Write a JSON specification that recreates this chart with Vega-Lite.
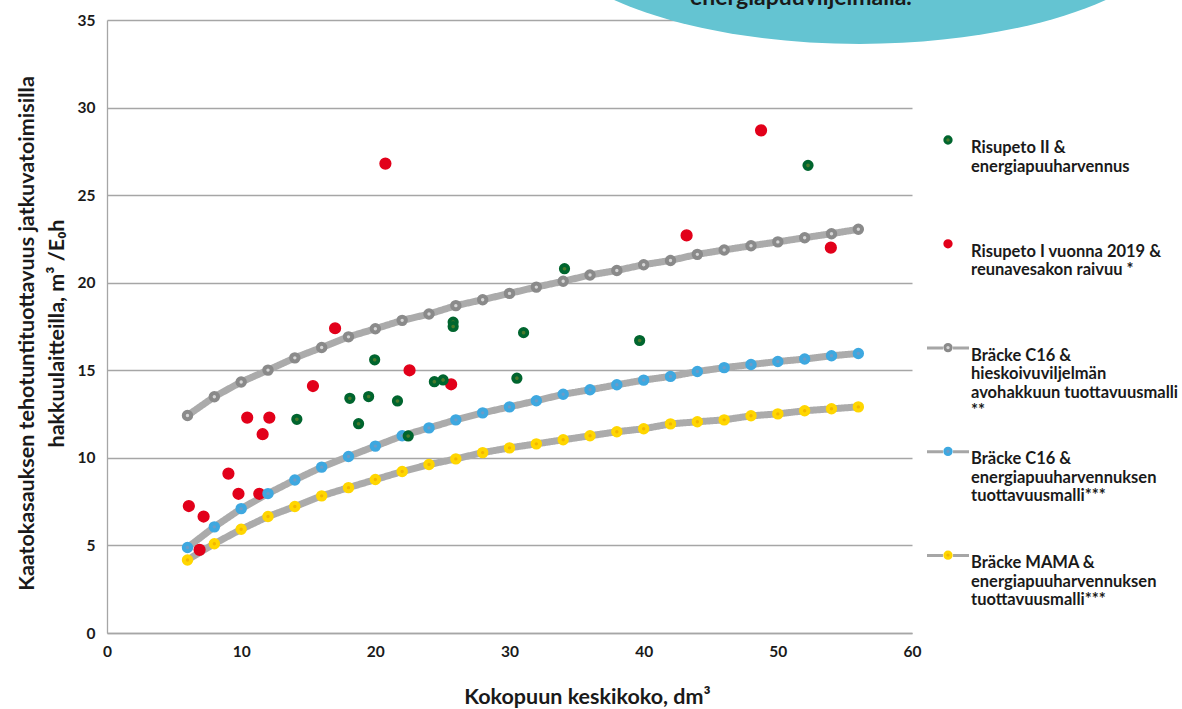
{
  "$schema": "https://vega.github.io/schema/vega-lite/v6.json",
  "width": 805,
  "height": 613,
  "autosize": {"type": "none"},
  "padding": {"left": 107, "top": 20, "right": 270, "bottom": 76},
  "background": "white",
  "config": {"view": {"stroke": null}, "font": "Lato"},
  "datasets": {
    "green": [
      {"serie": "Risupeto II &|energiapuuharvennus", "x": 14.15, "y": 12.2},
      {"serie": "Risupeto II &|energiapuuharvennus", "x": 18.1, "y": 13.4},
      {"serie": "Risupeto II &|energiapuuharvennus", "x": 18.75, "y": 11.95},
      {"serie": "Risupeto II &|energiapuuharvennus", "x": 19.5, "y": 13.5},
      {"serie": "Risupeto II &|energiapuuharvennus", "x": 19.95, "y": 15.6},
      {"serie": "Risupeto II &|energiapuuharvennus", "x": 21.65, "y": 13.25},
      {"serie": "Risupeto II &|energiapuuharvennus", "x": 22.45, "y": 11.25},
      {"serie": "Risupeto II &|energiapuuharvennus", "x": 24.4, "y": 14.35},
      {"serie": "Risupeto II &|energiapuuharvennus", "x": 25.05, "y": 14.45},
      {"serie": "Risupeto II &|energiapuuharvennus", "x": 25.8, "y": 17.75},
      {"serie": "Risupeto II &|energiapuuharvennus", "x": 25.8, "y": 17.5},
      {"serie": "Risupeto II &|energiapuuharvennus", "x": 30.55, "y": 14.55},
      {"serie": "Risupeto II &|energiapuuharvennus", "x": 31.05, "y": 17.15},
      {"serie": "Risupeto II &|energiapuuharvennus", "x": 34.1, "y": 20.8},
      {"serie": "Risupeto II &|energiapuuharvennus", "x": 39.7, "y": 16.7},
      {"serie": "Risupeto II &|energiapuuharvennus", "x": 52.25, "y": 26.7}
    ],
    "red": [
      {"serie": "Risupeto I vuonna 2019 &|reunavesakon raivuu *", "x": 6.1, "y": 7.25},
      {"serie": "Risupeto I vuonna 2019 &|reunavesakon raivuu *", "x": 6.9, "y": 4.75},
      {"serie": "Risupeto I vuonna 2019 &|reunavesakon raivuu *", "x": 7.2, "y": 6.65},
      {"serie": "Risupeto I vuonna 2019 &|reunavesakon raivuu *", "x": 9.05, "y": 9.1},
      {"serie": "Risupeto I vuonna 2019 &|reunavesakon raivuu *", "x": 9.8, "y": 7.95},
      {"serie": "Risupeto I vuonna 2019 &|reunavesakon raivuu *", "x": 10.45, "y": 12.3},
      {"serie": "Risupeto I vuonna 2019 &|reunavesakon raivuu *", "x": 11.35, "y": 7.95},
      {"serie": "Risupeto I vuonna 2019 &|reunavesakon raivuu *", "x": 11.6, "y": 11.35},
      {"serie": "Risupeto I vuonna 2019 &|reunavesakon raivuu *", "x": 12.1, "y": 12.3},
      {"serie": "Risupeto I vuonna 2019 &|reunavesakon raivuu *", "x": 15.35, "y": 14.1},
      {"serie": "Risupeto I vuonna 2019 &|reunavesakon raivuu *", "x": 17.0, "y": 17.4},
      {"serie": "Risupeto I vuonna 2019 &|reunavesakon raivuu *", "x": 20.75, "y": 26.8},
      {"serie": "Risupeto I vuonna 2019 &|reunavesakon raivuu *", "x": 22.55, "y": 15.0},
      {"serie": "Risupeto I vuonna 2019 &|reunavesakon raivuu *", "x": 25.65, "y": 14.2},
      {"serie": "Risupeto I vuonna 2019 &|reunavesakon raivuu *", "x": 43.2, "y": 22.7},
      {"serie": "Risupeto I vuonna 2019 &|reunavesakon raivuu *", "x": 48.75, "y": 28.7},
      {"serie": "Risupeto I vuonna 2019 &|reunavesakon raivuu *", "x": 53.95, "y": 22.0}
    ],
    "models": [
      {"serie": "Bräcke C16 &|hieskoivuviljelmän|avohakkuun tuottavuusmalli|**", "x": 6, "y": 12.42},
      {"serie": "Bräcke C16 &|hieskoivuviljelmän|avohakkuun tuottavuusmalli|**", "x": 8, "y": 13.49},
      {"serie": "Bräcke C16 &|hieskoivuviljelmän|avohakkuun tuottavuusmalli|**", "x": 10, "y": 14.33},
      {"serie": "Bräcke C16 &|hieskoivuviljelmän|avohakkuun tuottavuusmalli|**", "x": 12, "y": 15.01},
      {"serie": "Bräcke C16 &|hieskoivuviljelmän|avohakkuun tuottavuusmalli|**", "x": 14, "y": 15.71},
      {"serie": "Bräcke C16 &|hieskoivuviljelmän|avohakkuun tuottavuusmalli|**", "x": 16, "y": 16.3},
      {"serie": "Bräcke C16 &|hieskoivuviljelmän|avohakkuun tuottavuusmalli|**", "x": 18, "y": 16.91},
      {"serie": "Bräcke C16 &|hieskoivuviljelmän|avohakkuun tuottavuusmalli|**", "x": 20, "y": 17.37},
      {"serie": "Bräcke C16 &|hieskoivuviljelmän|avohakkuun tuottavuusmalli|**", "x": 22, "y": 17.85},
      {"serie": "Bräcke C16 &|hieskoivuviljelmän|avohakkuun tuottavuusmalli|**", "x": 24, "y": 18.21},
      {"serie": "Bräcke C16 &|hieskoivuviljelmän|avohakkuun tuottavuusmalli|**", "x": 26, "y": 18.69},
      {"serie": "Bräcke C16 &|hieskoivuviljelmän|avohakkuun tuottavuusmalli|**", "x": 28, "y": 19.03},
      {"serie": "Bräcke C16 &|hieskoivuviljelmän|avohakkuun tuottavuusmalli|**", "x": 30, "y": 19.39},
      {"serie": "Bräcke C16 &|hieskoivuviljelmän|avohakkuun tuottavuusmalli|**", "x": 32, "y": 19.75},
      {"serie": "Bräcke C16 &|hieskoivuviljelmän|avohakkuun tuottavuusmalli|**", "x": 34, "y": 20.08},
      {"serie": "Bräcke C16 &|hieskoivuviljelmän|avohakkuun tuottavuusmalli|**", "x": 36, "y": 20.44},
      {"serie": "Bräcke C16 &|hieskoivuviljelmän|avohakkuun tuottavuusmalli|**", "x": 38, "y": 20.7},
      {"serie": "Bräcke C16 &|hieskoivuviljelmän|avohakkuun tuottavuusmalli|**", "x": 40, "y": 21.03},
      {"serie": "Bräcke C16 &|hieskoivuviljelmän|avohakkuun tuottavuusmalli|**", "x": 42, "y": 21.27},
      {"serie": "Bräcke C16 &|hieskoivuviljelmän|avohakkuun tuottavuusmalli|**", "x": 44, "y": 21.62},
      {"serie": "Bräcke C16 &|hieskoivuviljelmän|avohakkuun tuottavuusmalli|**", "x": 46, "y": 21.87},
      {"serie": "Bräcke C16 &|hieskoivuviljelmän|avohakkuun tuottavuusmalli|**", "x": 48, "y": 22.11},
      {"serie": "Bräcke C16 &|hieskoivuviljelmän|avohakkuun tuottavuusmalli|**", "x": 50, "y": 22.33},
      {"serie": "Bräcke C16 &|hieskoivuviljelmän|avohakkuun tuottavuusmalli|**", "x": 52, "y": 22.57},
      {"serie": "Bräcke C16 &|hieskoivuviljelmän|avohakkuun tuottavuusmalli|**", "x": 54, "y": 22.8},
      {"serie": "Bräcke C16 &|hieskoivuviljelmän|avohakkuun tuottavuusmalli|**", "x": 56, "y": 23.05},
      {"serie": "Bräcke C16 &|energiapuuharvennuksen|tuottavuusmalli***", "x": 6, "y": 4.88},
      {"serie": "Bräcke C16 &|energiapuuharvennuksen|tuottavuusmalli***", "x": 8, "y": 6.06},
      {"serie": "Bräcke C16 &|energiapuuharvennuksen|tuottavuusmalli***", "x": 10, "y": 7.1},
      {"serie": "Bräcke C16 &|energiapuuharvennuksen|tuottavuusmalli***", "x": 12, "y": 7.96},
      {"serie": "Bräcke C16 &|energiapuuharvennuksen|tuottavuusmalli***", "x": 14, "y": 8.74},
      {"serie": "Bräcke C16 &|energiapuuharvennuksen|tuottavuusmalli***", "x": 16, "y": 9.47},
      {"serie": "Bräcke C16 &|energiapuuharvennuksen|tuottavuusmalli***", "x": 18, "y": 10.08},
      {"serie": "Bräcke C16 &|energiapuuharvennuksen|tuottavuusmalli***", "x": 20, "y": 10.67},
      {"serie": "Bräcke C16 &|energiapuuharvennuksen|tuottavuusmalli***", "x": 22, "y": 11.26},
      {"serie": "Bräcke C16 &|energiapuuharvennuksen|tuottavuusmalli***", "x": 24, "y": 11.71},
      {"serie": "Bräcke C16 &|energiapuuharvennuksen|tuottavuusmalli***", "x": 26, "y": 12.17},
      {"serie": "Bräcke C16 &|energiapuuharvennuksen|tuottavuusmalli***", "x": 28, "y": 12.57},
      {"serie": "Bräcke C16 &|energiapuuharvennuksen|tuottavuusmalli***", "x": 30, "y": 12.91},
      {"serie": "Bräcke C16 &|energiapuuharvennuksen|tuottavuusmalli***", "x": 32, "y": 13.26},
      {"serie": "Bräcke C16 &|energiapuuharvennuksen|tuottavuusmalli***", "x": 34, "y": 13.63},
      {"serie": "Bräcke C16 &|energiapuuharvennuksen|tuottavuusmalli***", "x": 36, "y": 13.89},
      {"serie": "Bräcke C16 &|energiapuuharvennuksen|tuottavuusmalli***", "x": 38, "y": 14.17},
      {"serie": "Bräcke C16 &|energiapuuharvennuksen|tuottavuusmalli***", "x": 40, "y": 14.44},
      {"serie": "Bräcke C16 &|energiapuuharvennuksen|tuottavuusmalli***", "x": 42, "y": 14.65},
      {"serie": "Bräcke C16 &|energiapuuharvennuksen|tuottavuusmalli***", "x": 44, "y": 14.93},
      {"serie": "Bräcke C16 &|energiapuuharvennuksen|tuottavuusmalli***", "x": 46, "y": 15.15},
      {"serie": "Bräcke C16 &|energiapuuharvennuksen|tuottavuusmalli***", "x": 48, "y": 15.33},
      {"serie": "Bräcke C16 &|energiapuuharvennuksen|tuottavuusmalli***", "x": 50, "y": 15.5},
      {"serie": "Bräcke C16 &|energiapuuharvennuksen|tuottavuusmalli***", "x": 52, "y": 15.64},
      {"serie": "Bräcke C16 &|energiapuuharvennuksen|tuottavuusmalli***", "x": 54, "y": 15.83},
      {"serie": "Bräcke C16 &|energiapuuharvennuksen|tuottavuusmalli***", "x": 56, "y": 15.96},
      {"serie": "Bräcke MAMA &|energiapuuharvennuksen|tuottavuusmalli***", "x": 6, "y": 4.17},
      {"serie": "Bräcke MAMA &|energiapuuharvennuksen|tuottavuusmalli***", "x": 8, "y": 5.1},
      {"serie": "Bräcke MAMA &|energiapuuharvennuksen|tuottavuusmalli***", "x": 10, "y": 5.92},
      {"serie": "Bräcke MAMA &|energiapuuharvennuksen|tuottavuusmalli***", "x": 12, "y": 6.65},
      {"serie": "Bräcke MAMA &|energiapuuharvennuksen|tuottavuusmalli***", "x": 14, "y": 7.22},
      {"serie": "Bräcke MAMA &|energiapuuharvennuksen|tuottavuusmalli***", "x": 16, "y": 7.83},
      {"serie": "Bräcke MAMA &|energiapuuharvennuksen|tuottavuusmalli***", "x": 18, "y": 8.3},
      {"serie": "Bräcke MAMA &|energiapuuharvennuksen|tuottavuusmalli***", "x": 20, "y": 8.76},
      {"serie": "Bräcke MAMA &|energiapuuharvennuksen|tuottavuusmalli***", "x": 22, "y": 9.22},
      {"serie": "Bräcke MAMA &|energiapuuharvennuksen|tuottavuusmalli***", "x": 24, "y": 9.62},
      {"serie": "Bräcke MAMA &|energiapuuharvennuksen|tuottavuusmalli***", "x": 26, "y": 9.94},
      {"serie": "Bräcke MAMA &|energiapuuharvennuksen|tuottavuusmalli***", "x": 28, "y": 10.3},
      {"serie": "Bräcke MAMA &|energiapuuharvennuksen|tuottavuusmalli***", "x": 30, "y": 10.57},
      {"serie": "Bräcke MAMA &|energiapuuharvennuksen|tuottavuusmalli***", "x": 32, "y": 10.8},
      {"serie": "Bräcke MAMA &|energiapuuharvennuksen|tuottavuusmalli***", "x": 34, "y": 11.03},
      {"serie": "Bräcke MAMA &|energiapuuharvennuksen|tuottavuusmalli***", "x": 36, "y": 11.26},
      {"serie": "Bräcke MAMA &|energiapuuharvennuksen|tuottavuusmalli***", "x": 38, "y": 11.49},
      {"serie": "Bräcke MAMA &|energiapuuharvennuksen|tuottavuusmalli***", "x": 40, "y": 11.66},
      {"serie": "Bräcke MAMA &|energiapuuharvennuksen|tuottavuusmalli***", "x": 42, "y": 11.94},
      {"serie": "Bräcke MAMA &|energiapuuharvennuksen|tuottavuusmalli***", "x": 44, "y": 12.06},
      {"serie": "Bräcke MAMA &|energiapuuharvennuksen|tuottavuusmalli***", "x": 46, "y": 12.17},
      {"serie": "Bräcke MAMA &|energiapuuharvennuksen|tuottavuusmalli***", "x": 48, "y": 12.4},
      {"serie": "Bräcke MAMA &|energiapuuharvennuksen|tuottavuusmalli***", "x": 50, "y": 12.51},
      {"serie": "Bräcke MAMA &|energiapuuharvennuksen|tuottavuusmalli***", "x": 52, "y": 12.69},
      {"serie": "Bräcke MAMA &|energiapuuharvennuksen|tuottavuusmalli***", "x": 54, "y": 12.8},
      {"serie": "Bräcke MAMA &|energiapuuharvennuksen|tuottavuusmalli***", "x": 56, "y": 12.91}
    ]
  },
  "layer": [
    {
      "data": {"values": [{"k": 1}]},
      "mark": {"type": "point", "shape": "M-1,0C-1,-0.2179,-0.5523,-0.3945,0,-0.3945C0.5523,-0.3945,1,-0.2179,1,0C1,0.2179,0.5523,0.3945,0,0.3945C-0.5523,0.3945,-1,0.2179,-1,0Z", "size": 427716, "filled": true, "fill": "#64c4d2", "strokeWidth": 0, "opacity": 1, "clip": false},
      "encoding": {
        "x": {"datum": 56.12, "type": "quantitative"},
        "y": {"datum": 41.0, "type": "quantitative"}
      }
    },
    {
      "data": {"name": "models"},
      "mark": {"type": "line", "color": "#ababab", "strokeWidth": 7},
      "encoding": {
        "x": {
          "field": "x", "type": "quantitative",
          "scale": {"domain": [0, 60], "nice": false},
          "axis": {
            "values": [0, 10, 20, 30, 40, 50, 60], "grid": false, "ticks": false,
            "domainColor": "#a6a6a6", "domainWidth": 1.3,
            "labelFont": "Lato", "labelFontSize": 15.5, "labelFontWeight": "bold", "labelColor": "#1a1a1a",
            "labelPadding": 11, "labelFlush": false, "labelOverlap": false,
            "title": "Kokopuun keskikoko, dm³", "titleFont": "Lato", "titleFontSize": 21.5, "titleFontWeight": "bold",
            "titleColor": "#1a1a1a", "titleX": 480, "titleY": 70, "titleBaseline": "alphabetic", "titleAlign": "center"
          }
        },
        "y": {
          "field": "y", "type": "quantitative",
          "scale": {"domain": [0, 35], "nice": false},
          "axis": {
            "values": [0, 5, 10, 15, 20, 25, 30, 35], "grid": true, "gridColor": "#a6a6a6", "gridWidth": 1.3,
            "ticks": false, "domainColor": "#a6a6a6", "domainWidth": 1.3,
            "labelFont": "Lato", "labelFontSize": 15.5, "labelFontWeight": "bold", "labelColor": "#1a1a1a",
            "labelPadding": 12, "labelOverlap": false, "labelFlush": false,
            "title": ["Kaatokasauksen tehotuntituottavuus jatkuvatoimisilla", "hakkuulaitteilla, m³ /E₀h"],
            "titleFont": "Lato", "titleFontSize": 21.5, "titleFontWeight": "bold", "titleColor": "#1a1a1a",
            "titleLineHeight": 30, "titleAngle": -90, "titleBaseline": "top", "titleAlign": "center",
            "titleX": -91, "titleY": 313
          }
        },
        "strokeDash": {
          "field": "serie", "type": "nominal",
          "scale": {"domain": ["Bräcke C16 &|hieskoivuviljelmän|avohakkuun tuottavuusmalli|**", "Bräcke C16 &|energiapuuharvennuksen|tuottavuusmalli***", "Bräcke MAMA &|energiapuuharvennuksen|tuottavuusmalli***"], "range": [[1, 0], [1, 0], [1, 0]]},
          "legend": {
            "orient": "none", "legendX": 818.5, "legendY": 305.5, "title": null, "direction": "vertical",
            "symbolType": "M-1,0H-0.24M0.24,0H1", "symbolSize": 1764, "symbolStrokeWidth": 3, "symbolStrokeColor": "#a6a6a6",
            "labelFont": "Lato", "labelFontSize": 16.5, "labelFontWeight": "bold", "labelColor": "rgba(0,0,0,0)",
            "labelLineHeight": 20.5, "labelBaseline": "top", "labelOffset": 0.5, "labelLimit": 600,
            "rowPadding": 8.8, "gridAlign": "all",
            "labelExpr": "split(replace(replace(datum.label, regexp('[^|]', 'g'), ''), regexp('[|]', 'g'), ' |') + ' ', '|')",
            "encode": {
              "labels": {"dy": {"value": -7}}
            }
          }
        }
      }
    },
    {
      "data": {"name": "red"},
      "mark": {"type": "point", "filled": true, "size": 115, "strokeWidth": 1.5, "opacity": 1},
      "encoding": {
        "x": {"field": "x", "type": "quantitative"},
        "y": {"field": "y", "type": "quantitative"},
        "fill": {
          "field": "serie", "type": "nominal",
          "scale": {"domain": ["Risupeto II &|energiapuuharvennus", "Risupeto I vuonna 2019 &|reunavesakon raivuu *", "Bräcke C16 &|hieskoivuviljelmän|avohakkuun tuottavuusmalli|**", "Bräcke C16 &|energiapuuharvennuksen|tuottavuusmalli***", "Bräcke MAMA &|energiapuuharvennuksen|tuottavuusmalli***"], "range": ["#4b7a2c", "#e2001a", "#d6d6d6", "#6b9cc8", "#f2b600"]},
          "legend": {
            "orient": "none", "legendX": 818.5, "legendY": 97.5, "title": null, "direction": "vertical",
            "symbolType": "M-0.15,0A0.15,0.15,0,1,1,0.15,0A0.15,0.15,0,1,1,-0.15,0Z", "symbolSize": 1764, "symbolStrokeWidth": 3,
            "labelFont": "Lato", "labelFontSize": 16.5, "labelFontWeight": "bold", "labelColor": "#1a1a1a",
            "labelLineHeight": 20.5, "labelBaseline": "top", "labelOffset": 0.5, "labelLimit": 600,
            "rowPadding": 8.8, "gridAlign": "all",
            "labelExpr": "split(datum.label, '|')",
            "encode": {
              "labels": {"dy": {"value": -7}}
            }
          }
        },
        "stroke": {
          "field": "serie", "type": "nominal", "legend": null,
          "scale": {"domain": ["Risupeto II &|energiapuuharvennus", "Risupeto I vuonna 2019 &|reunavesakon raivuu *", "Bräcke C16 &|hieskoivuviljelmän|avohakkuun tuottavuusmalli|**", "Bräcke C16 &|energiapuuharvennuksen|tuottavuusmalli***", "Bräcke MAMA &|energiapuuharvennuksen|tuottavuusmalli***"], "range": ["#00652e", "#e2001a", "#8a8a8a", "#3ea8e0", "#ffd600"]}
        }
      }
    },
    {
      "data": {"name": "models"},
      "mark": {"type": "point", "filled": true, "size": 55, "strokeWidth": 4, "opacity": 1},
      "encoding": {
        "x": {"field": "x", "type": "quantitative"},
        "y": {"field": "y", "type": "quantitative"},
        "fill": {"field": "serie", "type": "nominal"},
        "stroke": {"field": "serie", "type": "nominal", "legend": null}
      }
    },
    {
      "data": {"name": "green"},
      "mark": {"type": "point", "filled": true, "size": 55, "strokeWidth": 3.8, "opacity": 1},
      "encoding": {
        "x": {"field": "x", "type": "quantitative"},
        "y": {"field": "y", "type": "quantitative"},
        "fill": {"field": "serie", "type": "nominal"},
        "stroke": {"field": "serie", "type": "nominal", "legend": null}
      }
    },
    {
      "data": {"values": [{"k": 1}]},
      "mark": {"type": "text", "text": "energiapuuviljelmällä.", "font": "Lato", "fontSize": 23, "fontWeight": "bold", "fill": "#1a1a1a", "align": "center", "baseline": "alphabetic", "clip": false},
      "encoding": {
        "x": {"datum": 51.72, "type": "quantitative"},
        "y": {"datum": 35.86, "type": "quantitative"}
      }
    }
  ]
}
